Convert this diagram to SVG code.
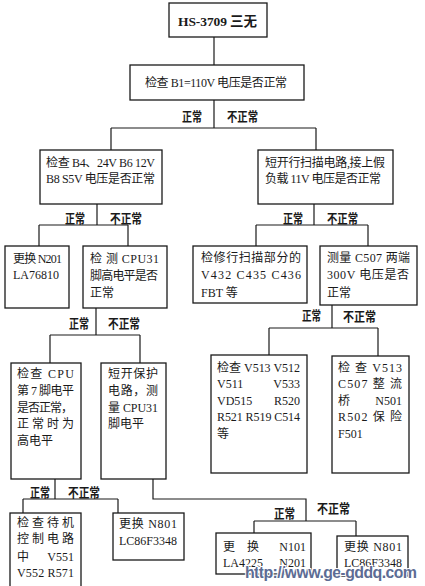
<svg xmlns="http://www.w3.org/2000/svg" width="425" height="586" viewBox="0 0 425 586">
<style>
.box{fill:#fff;stroke:#1a1a1a;stroke-width:1.3}
.ln{fill:none;stroke:#1a1a1a;stroke-width:1.2}
text{font-family:"Liberation Serif","Noto Sans CJK SC",serif;font-size:12px;fill:#1a1a1a}
.lb{font-family:"Noto Sans CJK SC",sans-serif;font-weight:bold;font-size:13px}
.t{font-weight:bold;font-size:13.5px}
.wm{font-family:"Liberation Sans","DejaVu Sans",sans-serif;font-weight:bold;font-size:16px;fill:#5d6c94;stroke:#fff;stroke-width:2;paint-order:stroke}
</style>
<rect width="425" height="586" fill="#fff"/>
<g id="connectors">
<path class="ln" d="M214 37V65"/>
<path class="ln" d="M214 100V128M111 128H316M111 128V150M316 128V150"/>
<path class="ln" d="M97 204V225M39 225H128M39 225V246M128 225V246"/>
<path class="ln" d="M314 204V225M256 225H368M256 225V246M368 225V246"/>
<path class="ln" d="M96 308V335M50 335H140M50 335V363M140 335V363"/>
<path class="ln" d="M332 305V328M269 328H378M269 328V355M378 328V356"/>
<path class="ln" d="M55 479V499M23 499H118M23 499V513M118 499V513"/>
<path class="ln" d="M153 479V499H306V521M254 521H356M254 521V533M356 521V536"/>
<text class="lb" x="182" y="121" textLength="20" lengthAdjust="spacingAndGlyphs">正常</text>
<text class="lb" x="227" y="121" textLength="31" lengthAdjust="spacingAndGlyphs">不正常</text>
<text class="lb" x="65" y="223" textLength="20" lengthAdjust="spacingAndGlyphs">正常</text>
<text class="lb" x="110" y="223" textLength="32" lengthAdjust="spacingAndGlyphs">不正常</text>
<text class="lb" x="283" y="223" textLength="20" lengthAdjust="spacingAndGlyphs">正常</text>
<text class="lb" x="327" y="223" textLength="31" lengthAdjust="spacingAndGlyphs">不正常</text>
<text class="lb" x="69" y="328" textLength="20" lengthAdjust="spacingAndGlyphs">正常</text>
<text class="lb" x="108" y="328" textLength="32" lengthAdjust="spacingAndGlyphs">不正常</text>
<text class="lb" x="302" y="320" textLength="19" lengthAdjust="spacingAndGlyphs">正常</text>
<text class="lb" x="343" y="321" textLength="33" lengthAdjust="spacingAndGlyphs">不正常</text>
<text class="lb" x="30" y="497" textLength="20" lengthAdjust="spacingAndGlyphs">正常</text>
<text class="lb" x="68" y="497" textLength="32" lengthAdjust="spacingAndGlyphs">不正常</text>
<text class="lb" x="274" y="518" textLength="21" lengthAdjust="spacingAndGlyphs">正常</text>
<text class="lb" x="317" y="513" textLength="33" lengthAdjust="spacingAndGlyphs">不正常</text>
</g>
<g id="n_title"><rect class="box" x="169" y="3" width="98" height="34"/><text class="t" x="178" y="26" textLength="79">HS-3709 三无</text></g>
<g id="n_b1"><rect class="box" x="130" y="65" width="174" height="35"/><text x="145" y="87" textLength="142">检查 B1=110V 电压是否正常</text></g>
<g id="n_b4"><rect class="box" x="40" y="150" width="122" height="54"/><text x="46" y="167" textLength="109">检查 B4、24V B6 12V</text><text x="46" y="183" textLength="109">B8 S5V 电压是否正常</text></g>
<g id="n_short"><rect class="box" x="258" y="150" width="135" height="54"/><text x="265" y="167" textLength="120">短开行扫描电路,接上假</text><text x="265" y="183" textLength="116">负载 11V 电压是否正常</text></g>
<g id="n_n201"><rect class="box" x="5" y="246" width="64" height="62"/><text x="13" y="263" textLength="49">更换 N201</text><text x="13" y="279">LA76810</text></g>
<g id="n_cpu31"><rect class="box" x="83" y="246" width="84" height="62"/><text x="90" y="263" textLength="69">检 测  CPU31</text><text x="90" y="280" textLength="68">脚高电平是否</text><text x="90" y="297">正常</text></g>
<g id="n_fbt"><rect class="box" x="193" y="246" width="114" height="57"/><text x="201" y="262" textLength="100">检修行扫描部分的</text><text x="201" y="279" textLength="100">V432   C435   C436</text><text x="201" y="297">FBT 等</text></g>
<g id="n_c507"><rect class="box" x="320" y="246" width="97" height="59"/><text x="327" y="262" textLength="83">测量 C507 两端</text><text x="327" y="279" textLength="82">300V  电压是否</text><text x="327" y="297">正常</text></g>
<g id="n_cpu7"><rect class="box" x="11" y="363" width="70" height="116"/><text x="17" y="378" textLength="57">检查  CPU</text><text x="17" y="395" textLength="57">第 7 脚电平</text><text x="17" y="412" textLength="56">是否正常，</text><text x="17" y="428" textLength="57">正 常 时 为</text><text x="17" y="445">高电平</text></g>
<g id="n_prot"><rect class="box" x="101" y="363" width="65" height="116"/><text x="108" y="378" textLength="50">短开保护</text><text x="108" y="395" textLength="50">电路，测</text><text x="108" y="412" textLength="50">量 CPU31</text><text x="108" y="428">脚电平</text></g>
<g id="n_v513a"><rect class="box" x="211" y="355" width="96" height="118"/><text x="217" y="372" textLength="83">检查 V513  V512</text><text x="217" y="388">V511</text><text x="300" y="388" text-anchor="end">V533</text><text x="217" y="405">VD515</text><text x="300" y="405" text-anchor="end">R520</text><text x="217" y="421" textLength="83">R521 R519 C514</text><text x="217" y="438">等</text></g>
<g id="n_v513b"><rect class="box" x="332" y="356" width="77" height="117"/><text x="338" y="372" textLength="64">检 查   V513</text><text x="338" y="388" textLength="64">C507  整 流</text><text x="338" y="405">桥</text><text x="402" y="405" text-anchor="end">N501</text><text x="338" y="421" textLength="64">R502  保 险</text><text x="338" y="438">F501</text></g>
<g id="n_standby"><rect class="box" x="10" y="513" width="71" height="90"/><text x="17" y="527" textLength="57">检查待机</text><text x="17" y="543" textLength="57">控制电路</text><text x="17" y="561">中</text><text x="74" y="561" text-anchor="end">V551</text><text x="17" y="577" textLength="57">V552 R571</text></g>
<g id="n_n801a"><rect class="box" x="113" y="513" width="71" height="47"/><text x="119" y="528" textLength="58">更换  N801</text><text x="119" y="545" textLength="58">LC86F3348</text></g>
<g id="n_n101"><rect class="box" x="216" y="533" width="95" height="41"/><text x="223" y="551">更</text><text x="247" y="551">换</text><text x="306" y="551" text-anchor="end">N101</text><text x="223" y="567">LA4225</text><text x="306" y="567" text-anchor="end">N201</text></g>
<g id="n_n801b"><rect class="box" x="337" y="536" width="71" height="40"/><text x="344" y="551" textLength="58">更换  N801</text><text x="344" y="567" textLength="58">LC86F3348</text></g>
<text class="wm" x="245" y="578" textLength="172">http://www.ge-gddq.com</text>
</svg>
